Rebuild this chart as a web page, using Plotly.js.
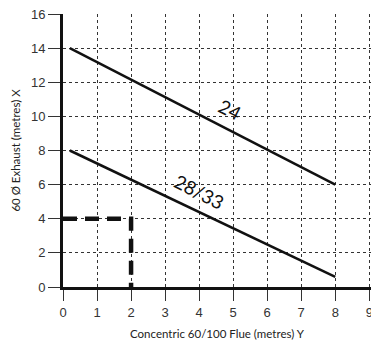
<!DOCTYPE html>
<html>
<head>
<meta charset="utf-8">
<script src="https://cdn.plot.ly/plotly-3.0.1.min.js"></script>
<style>html,body{margin:0;padding:0;background:#fff;overflow:hidden;}#chart{width:371px;height:344px;}</style>
</head>
<body>
<div id="chart"></div>
<script>
const line24X = [0.2, 8];
const line24Y = [14, 6];
const line2833X = [0.2, 8];
const line2833Y = [8, 0.6];
const exampleX = [0, 2, 2];
const exampleY = [4, 4, 0];
const xTicks = [0,1,2,3,4,5,6,7,8,9];
const yTicks = [0,2,4,6,8,10,12,14,16];
const labels = [
  {text: '24', x: 4.92, y: 10.4},
  {text: '28/33', x: 4.0, y: 5.6}
];

const traces = [
  {x: line24X, y: line24Y, mode: 'lines', line: {color: '#111', width: 2.5}, hoverinfo: 'skip'},
  {x: line2833X, y: line2833Y, mode: 'lines', line: {color: '#111', width: 2.5}, hoverinfo: 'skip'},
  {x: exampleX, y: exampleY, mode: 'lines', line: {color: '#111', width: 4.5, dash: '14px,8px'}, hoverinfo: 'skip'}
];

const layout = {
  width: 371, height: 344,
  margin: {l: 63, r: 0, t: 14, b: 57},
  showlegend: false,
  paper_bgcolor: '#fff', plot_bgcolor: '#fff',
  font: {family: 'Liberation Sans, Arial, sans-serif', color: '#333'},
  xaxis: {
    range: [0, 9.05], tickvals: xTicks, ticktext: xTicks.map(String), automargin: false,
    ticklabeloverflow: 'allow',
    showgrid: true, gridcolor: '#333', griddash: 'dot', gridwidth: 1,
    zeroline: false, showline: true, linecolor: '#111', linewidth: 3,
    ticks: 'outside', ticklen: 11, tickwidth: 1, tickcolor: '#333',
    tickfont: {size: 13, color: '#333'},
    title: {text: 'Concentric 60/100 Flue (metres) Y', font: {family: 'Lato, sans-serif', size: 11.5, color: '#222'}, standoff: 12}
  },
  yaxis: {
    range: [0, 16], tickvals: yTicks, ticktext: yTicks.map(String), automargin: false,
    showgrid: true, gridcolor: '#333', griddash: 'dot', gridwidth: 1,
    zeroline: false, showline: true, linecolor: '#111', linewidth: 3,
    ticks: 'outside', ticklen: 12, tickwidth: 1, tickcolor: '#333',
    tickfont: {size: 13, color: '#333'},
    title: {text: '60 Ø Exhaust (metres) X', font: {family: 'Lato, sans-serif', size: 11.5, color: '#222'}, standoff: 8}
  },
  annotations: labels.map(l => ({
    x: l.x, y: l.y, xref: 'x', yref: 'y', text: l.text, showarrow: false,
    textangle: 27, font: {family: 'Lato, sans-serif', size: 19, color: '#111'}
  }))
};

Plotly.newPlot('chart', traces, layout, {displayModeBar: false, staticPlot: true});
</script>
</body>
</html>
